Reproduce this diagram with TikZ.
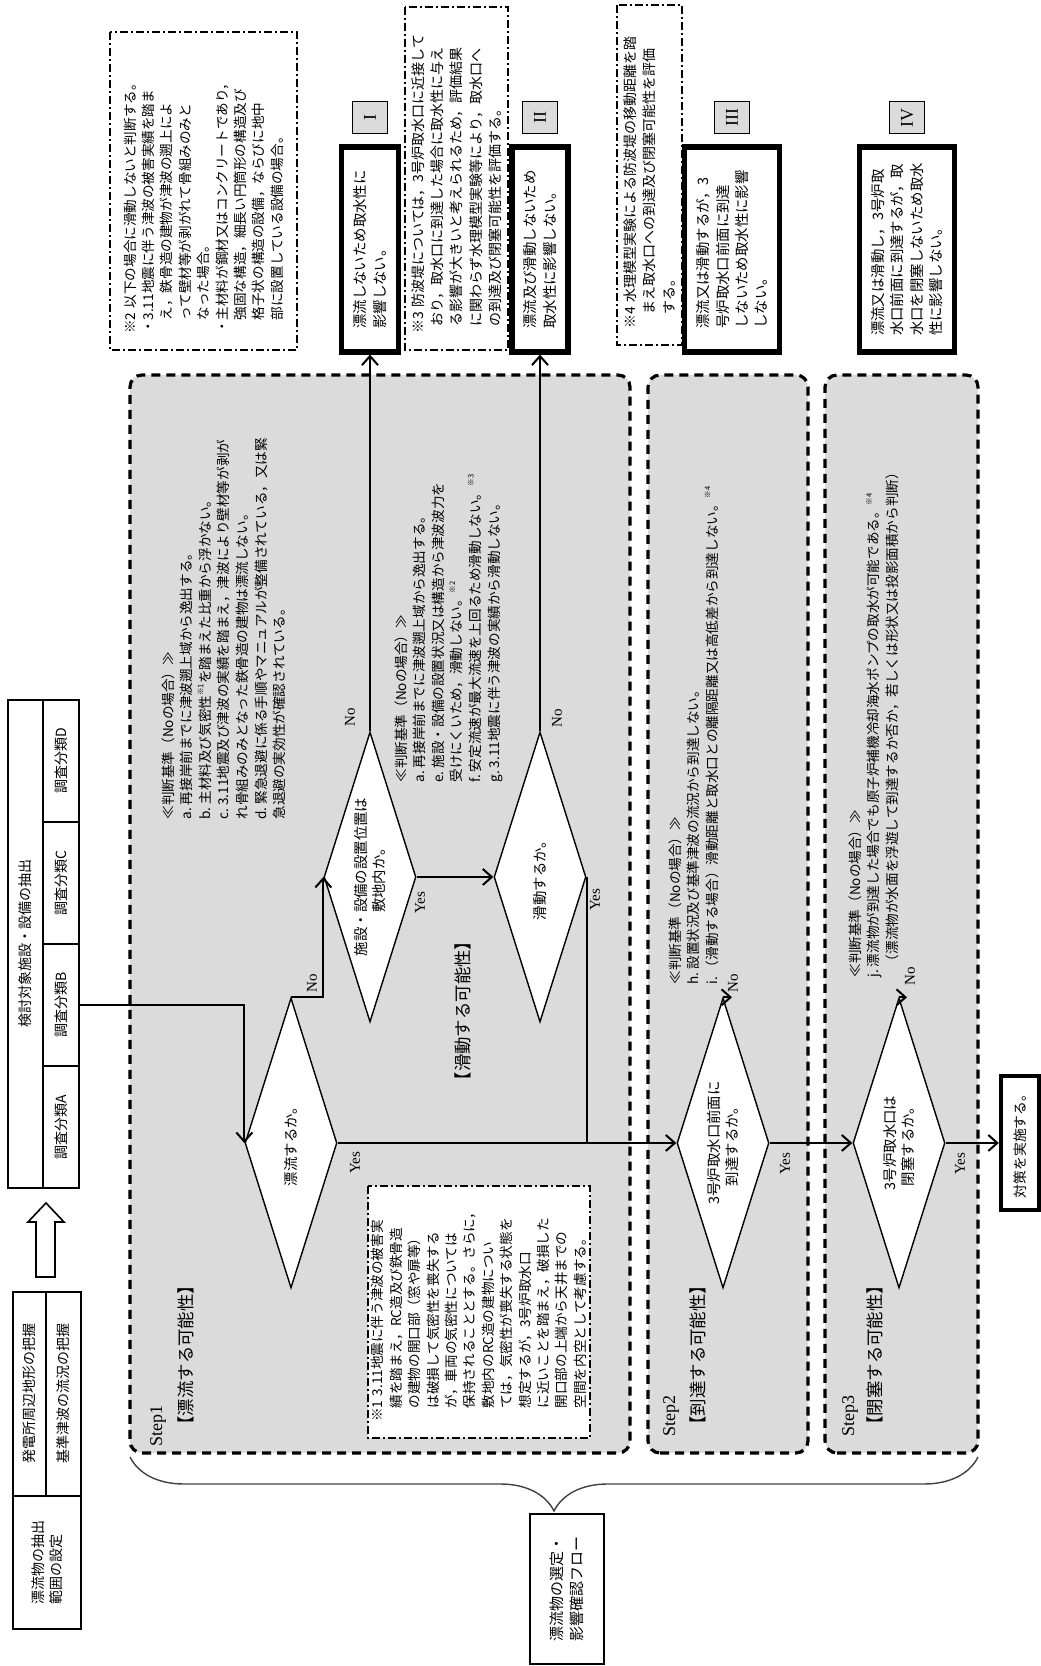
\documentclass[tikz,border=0pt]{standalone}
\usepackage{fontspec}
\setmainfont{Noto Sans CJK JP}
\newfontfamily\latn{Liberation Serif}
\usetikzlibrary{shapes.geometric,arrows.meta,positioning,decorations.pathreplacing}
\newcommand{\kome}[1]{\raisebox{0.5em}{\fontsize{3.8}{4}\selectfont ※#1}}
\tikzset{
  flow/.style={line width=1pt,-{Straight Barb[length=4.5pt,width=8pt]}},
  link/.style={line width=1pt},
  stepbox/.style={line width=1.6pt,dash pattern=on 4.5pt off 3pt,rounded corners=6pt,fill=black!14},
  judge/.style={diamond,aspect=3.15,draw,line width=0.7pt,fill=white,minimum width=145pt,minimum height=46pt,inner sep=0pt,align=center,font=\fontsize{7.2}{9.4}\selectfont},
  result/.style={draw,line width=2.6pt,fill=white,inner sep=0pt,minimum width=102.5pt,align=left,font=\fontsize{7.2}{9.6}\selectfont},
  tag/.style={draw,line width=0.8pt,fill=black!14,minimum width=16pt,minimum height=17.5pt,inner sep=0pt,font=\latn\fontsize{9}{9}\selectfont},
  note/.style={draw,line width=0.7pt,dash pattern=on 4pt off 1.5pt on 1pt off 1.5pt,fill=white,inner xsep=8pt,inner ysep=0pt,align=left,font=\fontsize{6.8}{9.2}\selectfont},
  crit/.style={anchor=north west,align=left,inner sep=0pt,font=\fontsize{6.8}{9.3}\selectfont},
  yn/.style={inner sep=0pt,font=\latn\fontsize{7.5}{7.5}\selectfont},
  cell/.style={draw,line width=0.8pt,inner sep=0pt,font=\fontsize{7}{9}\selectfont},
  phase/.style={anchor=west,inner sep=0pt,font=\fontsize{8.7}{10}\selectfont},
}
\begin{document}
\begin{tikzpicture}[x=0.5pt,y=-0.5pt]
\begin{scope}[rotate=90,transform shape]
\useasboundingbox (0,0) rectangle (1666,1040);
\draw[stepbox] (213,130) rectangle (1291,630);
\draw[stepbox] (213,648) rectangle (1291,808);
\draw[stepbox] (213,825) rectangle (1291,978);

\node[cell,minimum width=66.5pt,minimum height=34pt,align=left] (extract) at (103.5,47) {漂流物の抽出\\範囲の設定};
\node[cell,minimum width=102pt,minimum height=16.5pt] (terrain) at (272,29.5) {発電所周辺地形の把握};
\node[cell,minimum width=102pt,minimum height=17.5pt] (tsunami) at (272,63.5) {基準津波の流況の把握};
\draw[line width=0.8pt,fill=white] (389,36) -- (444,36) -- (444,28) -- (463,46) -- (444,64) -- (444,55) -- (389,55) -- cycle;
\node[cell,minimum width=244pt,minimum height=17.5pt] (target) at (722,25.5) {検討対象施設・設備の抽出};
\foreach \k [count=\i from 0] in {A,B,C,D}
  \node[cell,minimum width=61pt,minimum height=18pt] (cls\k) at (539+122*\i,61) {調査分類\k};

\node[phase,font=\latn\fontsize{9}{9}\selectfont] (s1) at (219,158) {Step1};
\node[phase] (s1txt) at (232,186) {【漂流する可能性】};
\node[phase,font=\latn\fontsize{9}{9}\selectfont] (s2) at (229,671) {Step2};
\node[phase] (s2txt) at (232,698) {【到達する可能性】};
\node[phase,font=\latn\fontsize{9}{9}\selectfont] (s3) at (229,850) {Step3};
\node[phase] (s3txt) at (232,875) {【閉塞する可能性】};
\node[phase,anchor=center] (slide) at (655,463) {【滑動する可能性】};

\node[crit] (rule1) at (846,161) {≪判断基準（Noの場合）≫\\
a.\ 再接岸前までに津波遡上域から逸出する。\\
b.\ 主材料及び気密性\kome{1}を踏まえた比重から浮かない。\\
c.\ 3.11地震及び津波の実績を踏まえ，津波により壁材等が剥が\\
れ骨組みのみとなった鉄骨造の建物は漂流しない。\\
d.\ 緊急退避に係る手順やマニュアルが整備されている，又は緊\\
急退避の実効性が確認されている。};
\node[crit] (rule2) at (883,394) {≪判断基準（Noの場合）≫\\
a.\ 再接岸前までに津波遡上域から逸出する。\\
e.\ 施設・設備の設置状況又は構造から津波波力を\\
受けにくいため，滑動しない。\kome{2}\\
f.\ 安定流速が最大流速を上回るため滑動しない。\kome{3}\\
g.\ 3.11地震に伴う津波の実績から滑動しない。};
\node[crit] (rule3) at (681,668) {≪判断基準（Noの場合）≫\\
h.\ 設置状況及び基準津波の流況から到達しない。\\
i.\ （滑動する場合）滑動距離と取水口との離隔距離又は高低差から到達しない。\kome{4}};
\node[crit] (rule4) at (688,848) {≪判断基準（Noの場合）≫\\
j.\ 漂流物が到達した場合でも原子炉補機冷却海水ポンプの取水が可能である。\kome{4}\\
\hspace{0.7em}（漂流物が水面を浮遊して到達するか否か，若しくは形状又は投影面積から判断）};

\node[note,text width=110pt,minimum height=111pt] (memo1) at (354,479) {※1 3.11地震に伴う津波の被害実\\
\hspace{1em}績を踏まえ，RC造及び鉄骨造\\
\hspace{1em}の建物の開口部（窓や扉等）\\
\hspace{1em}は破損して気密性を喪失する\\
\hspace{1em}が，車両の気密性については\\
\hspace{1em}保持されることとする。さらに，\\
\hspace{1em}敷地内のRC造の建物につい\\
\hspace{1em}ては，気密性が喪失する状態を\\
\hspace{1em}想定するが，3号炉取水口\\
\hspace{1em}に近いことを踏まえ，破損した\\
\hspace{1em}開口部の上端から天井までの\\
\hspace{1em}空間を内空として考慮する。};
\node[note,text width=143pt,minimum height=93.5pt] (memo2) at (1475,203.5) {※2 以下の場合に滑動しないと判断する。\\
・3.11地震に伴う津波の被害実績を踏ま\\
\hspace{1em}え，鉄骨造の建物が津波の遡上によ\\
\hspace{1em}って壁材等が剥がれて骨組みのみと\\
\hspace{1em}なった場合。\\
・主材料が鋼材又はコンクリートであり，\\
\hspace{1em}強固な構造，細長い円筒形の構造及び\\
\hspace{1em}格子状の構造の設備，ならびに地中\\
\hspace{1em}部に設置している設備の場合。};
\node[note,text width=155.5pt,minimum height=51.5pt,font=\fontsize{7}{9.6}\selectfont] (memo3) at (1487.5,456.5) {※3 防波堤については，3号炉取水口に近接して\\
\hspace{0.5em}おり，取水口に到達した場合に取水性に与え\\
\hspace{0.5em}る影響が大きいと考えられるため，評価結果\\
\hspace{0.5em}に関わらず水理模型実験等により，取水口へ\\
\hspace{0.5em}の到達及び閉塞可能性を評価する。};
\node[note,text width=154pt,minimum height=32.5pt,font=\fontsize{7}{9.8}\selectfont] (memo4) at (1491,649.5) {※4 水理模型実験による防波堤の移動距離を踏\\
\hspace{1em}まえ取水口への到達及び閉塞可能性を評価\\
\hspace{1em}する。};

\node[judge] (d1) at (523,291) {漂流するか。};
\node[judge] (d2) at (789,370) {施設・設備の設置位置は\\敷地内か。};
\node[judge] (d3) at (789,540) {滑動するか。};
\node[judge] (d4) at (523,723) {3号炉取水口前面に\\到達するか。};
\node[judge] (d5) at (523,899) {3号炉取水口は\\閉塞するか。};

\node[result,minimum height=28.5pt] (resI) at (1416.5,370) {漂流しないため取水性に\\影響しない。};
\node[result,minimum height=28pt] (resII) at (1416.5,540) {漂流及び滑動しないため\\取水性に影響しない。};
\node[result,minimum height=47.5pt] (resIII) at (1416.5,732) {漂流又は滑動するが，3\\号炉取水口前面に到達\\しないため取水性に影響\\しない。};
\node[result,minimum height=47.5pt] (resIV) at (1416.5,907) {漂流又は滑動し，3号炉取\\水口前面に到達するが，取\\水口を閉塞しないため取水\\性に影響しない。};
\node[tag,right=5pt of resI] (tagI) {I};
\node[tag,right=5pt of resII] (tagII) {II};
\node[tag,right=5pt of resIII] (tagIII) {III};
\node[tag,right=5pt of resIV] (tagIV) {IV};
\node[draw,line width=2.2pt,fill=white,minimum width=67pt,minimum height=19pt,inner sep=0pt,font=\fontsize{6.9}{9}\selectfont] (act) at (523,1020) {対策を実施する。};

\node[yn] (no1) at (683,312) {No};
\node[yn] (yes1) at (503,355) {Yes};
\node[yn] (no2) at (949,350) {No};
\node[yn] (yes2) at (763,420) {Yes};
\node[yn] (no3) at (948,557) {No};
\node[yn] (yes3) at (766,595) {Yes};
\node[yn] (no4) at (683,733) {No};
\node[yn] (yes4) at (502,785) {Yes};
\node[yn] (no5) at (690,910) {No};
\node[yn] (yes5) at (502,960) {Yes};

\draw[flow] (clsB.south) -- ++(0,20) |- (d1.north);
\draw[flow] (d1.east) |- (d2.north);
\draw[flow] (d2.east) -- (resI);
\draw[flow] (d2.south) -- (d3.north);
\draw[flow] (d3.east) -- (resII);
\coordinate (merge) at (523,616);
\draw[link] (d3.south) -| (merge);
\draw[flow] (d1.south) -- (d4.north);
\draw[flow] (d4.east) -- (d4.east |- resIII.west);
\draw[flow] (d4.south) -- (d5.north);
\draw[flow] (d5.east) -- (d5.east |- resIV.west);
\draw[flow] (d5.south) -- (act.north);

\draw[line width=0.7pt,black!75,decorate,decoration={brace,amplitude=27pt}] (209,978) -- (209,130);
\node[cell,minimum width=75pt,minimum height=37pt,align=left,font=\fontsize{7.5}{10}\selectfont] (flowname) at (77,567) {漂流物の選定・\\影響確認フロー};
\end{scope}
\end{tikzpicture}
\end{document}
